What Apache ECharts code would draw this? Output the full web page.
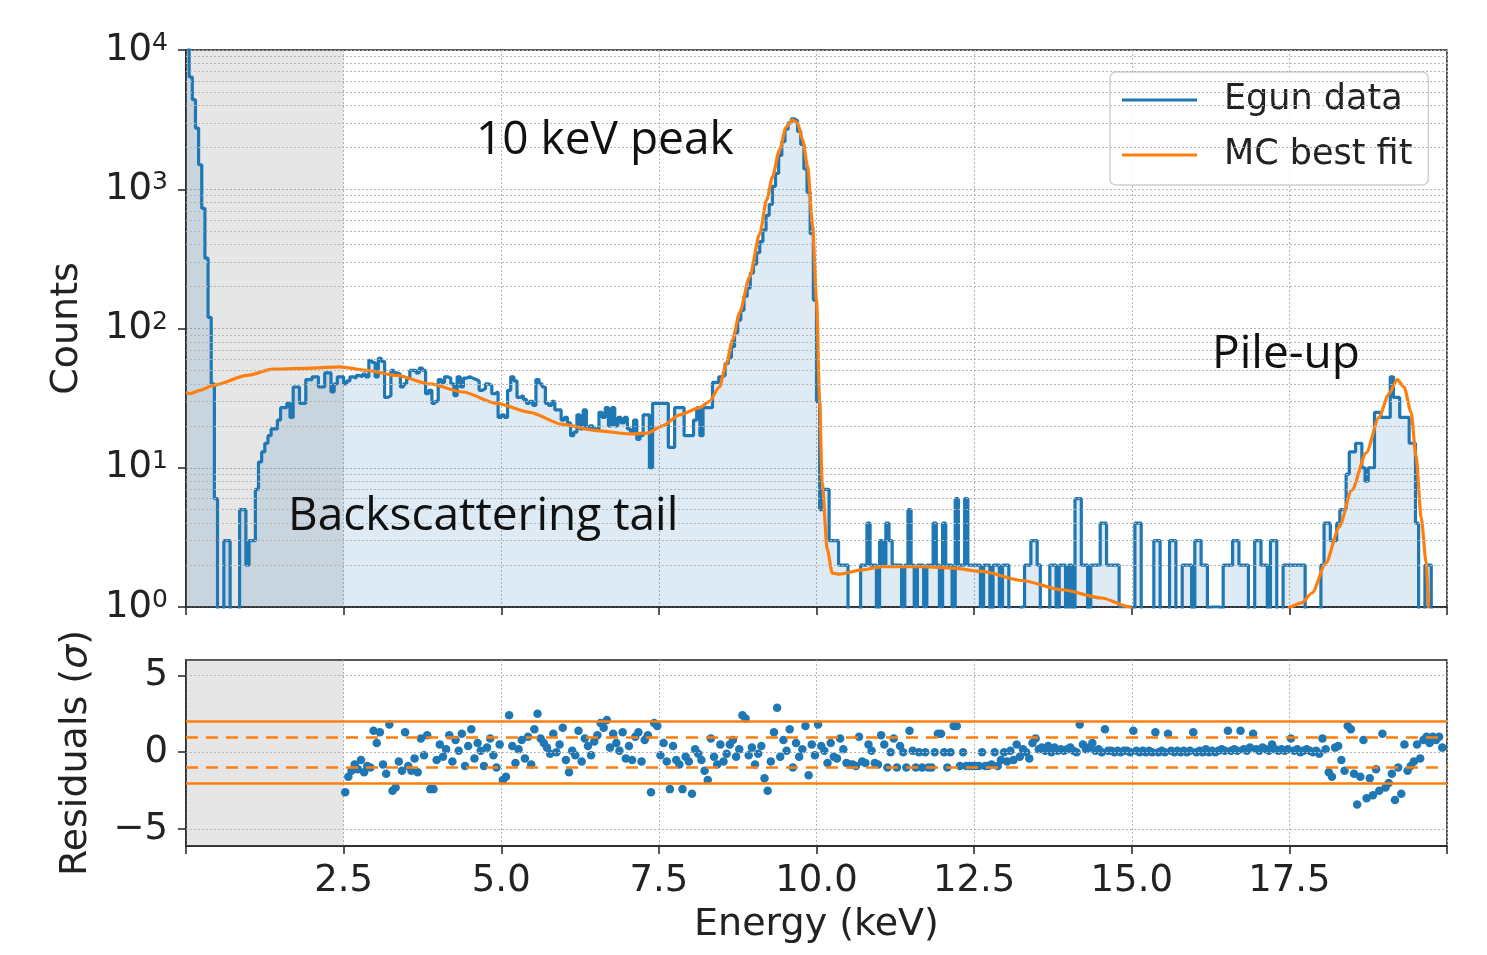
<!DOCTYPE html>
<html>
<head>
<meta charset="utf-8">
<script src="https://cdn.jsdelivr.net/npm/echarts@6/dist/echarts.min.js"></script>
<style>
  html, body { margin: 0; padding: 0; background: #fff; }
  #chart { width: 1487px; height: 955px; }
</style>
</head>
<body>
<div id="chart"></div>
<script>
// histogram bins, 0.05 keV wide, starting at 0 keV
const binWidth = 0.05;
const counts = [
  15000, 6400, 4400, 2750, 1500, 730, 320, 120, 40, 6,
  0, 0, 3, 3, 0, 0, 0, 5, 5, 2,
  3, 3, 7, 11, 13, 15, 17, 19, 19, 22,
  27, 27, 29, 23, 38, 38, 29, 29, 43, 43,
  45, 45, 38, 38, 48, 48, 35, 40, 45, 45,
  40, 42, 45, 44, 46, 45, 47, 45, 59, 57,
  45, 61, 58, 32, 33, 50, 48, 47, 38, 40,
  44, 50, 50, 48, 52, 50, 34, 36, 29, 30,
  43, 41, 45, 44, 40, 33, 45, 38, 44, 45,
  44, 43, 42, 36, 37, 40, 39, 34, 35, 23,
  24, 23, 36, 45, 42, 32, 33, 31, 29, 30,
  28, 43, 40, 38, 29, 28, 30, 26, 26, 22,
  23, 21, 17, 18, 24, 19, 26, 19, 20, 19,
  19, 25, 23, 27, 20, 27, 20, 23, 21, 23,
  19, 18, 22, 16, 17, 24, 24, 10, 29, 29,
  29, 29, 29, 14, 14, 27, 27, 27, 17, 17,
  17, 22, 27, 17, 27, 27, 27, 41, 41, 45,
  46, 56, 62, 74, 93, 115, 135, 170, 195, 250,
  290, 350, 420, 510, 650, 780, 1050, 1300, 1750, 2200,
  2700, 3000, 3200, 3100, 2600, 2100, 1400, 950, 480, 160,
  30, 5, 7, 7, 3, 3, 3, 2, 2, 2,
  0, 0, 0, 0, 2, 2, 4, 2, 2, 0,
  3, 2, 4, 3, 2, 2, 2, 1, 2, 5,
  2, 1, 2, 2, 1, 2, 2, 4, 2, 1,
  4, 2, 2, 1, 6, 2, 2, 6, 2, 2,
  2, 2, 1, 2, 2, 0, 2, 2, 1, 2,
  2, 0, 0, 0, 0, 1, 2, 2, 3, 3,
  2, 0, 0, 0, 2, 2, 0, 2, 2, 0,
  2, 0, 6, 6, 2, 2, 0, 2, 2, 2,
  4, 4, 2, 2, 2, 2, 1, 1, 1, 1,
  0, 4, 4, 0, 0, 0, 0, 3, 3, 0,
  0, 0, 3, 3, 0, 0, 2, 2, 2, 0,
  3, 3, 2, 2, 0, 1, 1, 1, 0, 2,
  2, 2, 3, 3, 2, 2, 2, 0, 0, 3,
  3, 2, 2, 0, 3, 3, 0, 0, 2, 2,
  2, 2, 2, 2, 2, 0, 0, 0, 0, 0,
  2, 4, 4, 3, 3, 4, 5, 5, 9, 13,
  13, 15, 15, 10, 8, 10, 10, 25, 25, 23,
  23, 23, 45, 32, 32, 23, 23, 23, 15, 15,
  4, 0, 0, 2, 2, 0, 0, 0, 0, 0
];

// MC best fit curve (keV, counts); values below 1 fall under the axis
const fitEnergy = [
  0.0, 0.06, 0.22, 0.43, 0.97, 1.38, 2.01, 2.44, 2.87, 3.34,
  3.87, 4.39, 4.93, 5.45, 5.97, 6.51, 7.04, 7.31, 7.56, 7.83,
  8.15, 8.30, 8.46, 8.57, 8.67, 8.78, 8.94, 9.10, 9.21, 9.30,
  9.41, 9.52, 9.62, 9.70, 9.78, 9.86, 9.94, 10.00, 10.05, 10.09,
  10.17, 10.25, 10.36, 10.72, 11.04, 11.67, 12.18, 12.62, 13.26, 13.89,
  14.52, 14.97, 15.3, 16.5, 17.3, 17.50, 17.69, 17.86, 18.08, 18.29,
  18.49, 18.72, 18.92, 19.08, 19.21, 19.32, 19.43, 19.51, 19.59, 19.67,
  19.71, 19.8
];
const fitCounts = [
  35, 34, 36, 39, 46, 51, 52, 53, 50, 46,
  40, 35, 29, 25, 20.5, 18.5, 17.5, 17.7, 20, 24,
  27, 30, 38, 56, 83, 130, 235, 480, 840, 1220,
  1900, 2800, 3150, 3000, 2250, 1450, 540, 160, 30, 7.8,
  2.6, 1.75, 1.72, 1.85, 1.95, 1.95, 1.9, 1.8, 1.55, 1.33,
  1.16, 1.0, 0.3, 0.3, 0.3, 1.0, 1.07, 1.26, 2.07, 3.75,
  6.9, 12.8, 23, 34, 43, 38, 25, 12, 4.4, 2.07,
  1.0, 0.3
];

// residuals per bin, starting with the bin at 2.5 keV
const residualStartBin = 50;
const residuals = [
  -2.6, -1.6, -1.2, -0.8, -1.1, -0.5, -1.3, -0.9, -1.0, 1.4,
  0.6, 1.3, -0.8, -1.4, 1.8, -2.5, -2.3, -0.6, -1.2, 1.3,
  -0.9, -1.2, -0.4, -1.3, 0.9, -0.2, 1.1, -2.4, -2.4, -0.5,
  0.5, -0.3, 0.2, 1.1, -0.6, 0.8, 0.1, 1.2, -0.9, 0.4,
  1.5, -0.4, 0.6, 0.1, -0.9, 0.3, 0.9, -0.2, -1.0, 0.5,
  -1.8, -1.6, 2.4, 0.4, -0.7, 0.2, 0.8, -0.4, 1.0, -0.8,
  1.5, 2.5, 0.9, 0.6, 0.3, -0.1, 1.2, 0.0, 0.5, 1.6,
  -0.5, -1.3, 0.1, -0.2, 1.4, -0.6, 0.9, 0.4, -0.2, 0.7,
  1.1, 1.9, 1.6, 2.1, 0.3, 1.2, 0.6, 0.1, 1.3, -0.4,
  0.4, -0.5, 1.0, 1.3, -0.6, 0.8, 1.1, -2.6, 1.9, 1.7,
  -0.2, 0.6, -0.6, -2.4, 0.4, -0.5, -0.8, -2.4, -0.3, -0.6,
  -2.7, 0.2, -0.1, -0.5, -1.2, -1.8, 0.9, -0.3, -0.8, 0.5,
  -0.6, -0.1, 0.5, 0.8, -0.3, 0.2, 2.4, 2.2, -0.2, 0.3,
  -0.8, -0.1, 0.4, -1.7, -2.5, -0.6, 1.3, 2.9, -0.3, 0.8,
  0.1, 1.5, -1.0, 0.6, -0.3, 0.2, 1.7, -1.5, 0.5, -0.2,
  1.8, 0.4, 0.1, -0.7, 0.6, -0.3, -0.4, 0.9, 0.2, -0.7,
  -0.8, -0.8, -0.9, 1.0, -0.6, -0.7, 0.5, 0.1, -0.7, -0.8,
  1.1, 0.5, -1.0, 0.0, 0.9, -1.0, 0.4, 0.0, -1.0, 1.4,
  0.1, -1.0, 0.0, -1.0, 0.0, -1.0, -1.0, 0.0, 1.2, 1.2,
  0.0, -1.0, 0.0, 1.7, 1.7, -0.9, 0.0, -0.9, -0.9, -0.9,
  -0.9, -0.9, 0.0, -0.9, -0.9, -0.8, 0.0, -0.9, -0.5, 0.0,
  -0.6, 0.1, -0.5, 0.5, -0.3, 0.2, 0.0, -0.4, 0.6, 0.9,
  0.2, 0.3, 0.1, 0.4, 0.0, 0.3, 0.1, 0.2, 0.1, 0.2,
  0.3, 0.1, 0.0, 1.8, 0.5, 0.2, 0.3, 0.6, 0.1, 0.2,
  0.0, 1.5, 0.1, 0.1, 0.0, 0.1, 0.0, 0.1, 0.1, 0.0,
  1.4, 0.1, 0.0, 0.1, 0.0, 0.1, 0.0, 1.3, 0.0, 0.1,
  0.0, 1.2, 0.1, 0.0, 0.1, 0.0, 0.1, 0.0, 0.1, 1.3,
  0.0, 0.1, 0.0, 0.2, 0.0, 0.1, 0.0, 0.1, 0.2, 0.1,
  1.4, 0.1, 0.2, 0.1, 1.4, 0.2, 0.1, 0.3, 1.2, 0.2,
  0.1, 0.3, 0.2, 0.1, 0.5, 0.2, 0.1, 0.2, 0.1, 0.2,
  0.9, 0.1, 0.2, 0.0, 0.1, 0.2, 0.1, 0.0, 0.1, -0.1,
  0.9, 0.2, -1.3, -1.6, 0.3, 0.4, -0.5, -1.2, 1.7, 1.5,
  -1.4, -3.4, -1.6, 0.8, -3.0, -1.7, -2.8, -1.1, -2.5, 1.2,
  -2.3, -2.0, -1.4, -3.1, -1.0, -2.7, 0.5, -1.2, -0.9, -0.6,
  0.5, -0.4, 0.8, 1.0, 0.6, 1.0, 0.8, 1.0, 0.3
];

const excludedRange = [0, 2.5];
const sigmaSolid = [2, -2];
const sigmaDashed = [1, -1];
const residualTicks = [-5, 0, 5];
const logMinorLines = [2, 3, 4, 5, 6, 7, 8, 9, 20, 30, 40, 50, 60, 70, 80, 90,
  200, 300, 400, 500, 600, 700, 800, 900, 2000, 3000, 4000, 5000, 6000, 7000, 8000, 9000];

const BLUE = '#1f77b4';
const ORANGE = '#ff7f0e';
const GRIDC = '#b5b5b5';
const FONT = '"DejaVu Sans", sans-serif';

// step histogram points: left edges + closing edge, zero counts pushed below the axis
const histPoints = counts.map((c, i) => [i * binWidth, c > 0 ? c : 0.1]);
histPoints.push([counts.length * binWidth, counts[counts.length - 1] > 0 ? counts[counts.length - 1] : 0.1]);

const fitPoints = fitEnergy.map((e, i) => [e, fitCounts[i]]);
const residualPoints = residuals.map((r, i) => [(residualStartBin + i + 0.5) * binWidth, r]);

const chart = echarts.init(document.getElementById('chart'), null, { renderer: 'canvas' });

const gridLine = { show: true, lineStyle: { color: GRIDC, type: [2, 2], width: 1 } };

const option = {
  animation: false,
  backgroundColor: '#fff',
  grid: [
    { left: 186, top: 50, width: 1261, height: 557, show: true, borderColor: '#222', borderWidth: 1.5, outerBoundsMode: 'none', containLabel: false },
    { left: 186, top: 660, width: 1261, height: 186, show: true, borderColor: '#222', borderWidth: 1.5, outerBoundsMode: 'none', containLabel: false }
  ],
  legend: {
    data: ['Egun data', 'MC best fit'],
    orient: 'vertical',
    left: 1110,
    top: 72,
    icon: 'rect',
    itemWidth: 75,
    itemHeight: 3,
    itemGap: 15,
    padding: [8, 16, 10, 12],
    backgroundColor: 'rgba(255,255,255,0.85)',
    borderColor: '#d0d0d0',
    borderWidth: 1.5,
    borderRadius: 6,
    textStyle: { fontSize: 35, fontFamily: FONT, color: '#222', lineHeight: 40, padding: [0, 0, 0, 22] }
  },
  xAxis: [
    {
      gridIndex: 0, type: 'value', min: 0, max: 20, interval: 2.5,
      axisLine: { show: true, onZero: false, lineStyle: { color: '#222', width: 1.5 } },
      axisTick: { show: true, length: 8, lineStyle: { color: '#222', width: 1.5 } },
      axisLabel: { show: false },
      splitLine: gridLine
    },
    {
      gridIndex: 1, type: 'value', min: 0, max: 20, interval: 2.5,
      axisLine: { show: true, onZero: false, lineStyle: { color: '#222', width: 1.5 } },
      axisTick: { show: true, length: 8, lineStyle: { color: '#222', width: 1.5 } },
      axisLabel: {
        fontSize: 37, fontFamily: FONT, color: '#222', margin: 17,
        formatter: v => (v <= 0 || v >= 20) ? '' : v.toFixed(1)
      },
      splitLine: gridLine,
      name: 'Energy (keV)', nameLocation: 'middle', nameGap: 60,
      nameTextStyle: { fontSize: 38, fontFamily: FONT, color: '#222' }
    }
  ],
  yAxis: [
    {
      gridIndex: 0, type: 'log', logBase: 10, min: 1, max: 10000, splitNumber: 4,
      axisLine: { show: true, lineStyle: { color: '#222', width: 1.5 } },
      axisTick: { show: true, length: 8, lineStyle: { color: '#222', width: 1.5 } },
      axisLabel: {
        margin: 18,
        formatter: v => '{b|10}{s|' + Math.round(Math.log10(v)) + '}',
        rich: {
          b: { fontSize: 37, fontFamily: FONT, color: '#222', lineHeight: 38 },
          s: { fontSize: 25, fontFamily: FONT, color: '#222', lineHeight: 25, verticalAlign: 'top' }
        }
      },
      splitLine: gridLine,
      name: 'Counts', nameLocation: 'middle', nameGap: 100,
      nameTextStyle: { fontSize: 38, fontFamily: FONT, color: '#222' }
    },
    {
      gridIndex: 1, type: 'value', min: -6.1, max: 6.0,
      axisLine: { show: true, onZero: false, lineStyle: { color: '#222', width: 1.5 } },
      axisTick: { show: true, length: 8, customValues: residualTicks, lineStyle: { color: '#222', width: 1.5 } },
      axisLabel: {
        fontSize: 37, fontFamily: FONT, color: '#222', margin: 18,
        customValues: residualTicks,
        formatter: v => v < 0 ? '\u2212' + Math.abs(v) : String(v)
      },
      splitLine: { show: false },
      name: 'Residuals ({i|σ})', nameLocation: 'middle', nameGap: 91,
      nameTextStyle: {
        fontSize: 38, fontFamily: FONT, color: '#222',
        rich: { i: { fontSize: 38, fontFamily: FONT, fontStyle: 'italic', color: '#222' } }
      }
    }
  ],
  series: [
    {
      name: 'Egun data',
      type: 'line',
      xAxisIndex: 0, yAxisIndex: 0,
      data: histPoints,
      step: 'end',
      showSymbol: false,
      symbol: 'none',
      clip: true,
      z: 3,
      color: BLUE,
      lineStyle: { color: BLUE, width: 3.2 },
      areaStyle: { color: 'rgba(31,119,180,0.21)', origin: 1 },
      markArea: {
        silent: true,
        itemStyle: { color: 'rgba(128,128,128,0.2)' },
        data: [[{ xAxis: excludedRange[0] }, { xAxis: excludedRange[1] }]]
      },
      markLine: {
        silent: true,
        symbol: 'none',
        label: { show: false },
        lineStyle: { color: GRIDC, type: [2, 2], width: 1 },
        data: logMinorLines.map(v => ({ yAxis: v }))
      }
    },
    {
      name: 'MC best fit',
      type: 'line',
      xAxisIndex: 0, yAxisIndex: 0,
      data: fitPoints,
      smooth: 0.25,
      smoothMonotone: 'x',
      showSymbol: false,
      symbol: 'none',
      clip: true,
      z: 4,
      color: ORANGE,
      lineStyle: { color: ORANGE, width: 3.2 }
    },
    {
      name: 'Residuals',
      type: 'scatter',
      xAxisIndex: 1, yAxisIndex: 1,
      data: residualPoints,
      symbolSize: 8.5,
      z: 4,
      itemStyle: { color: BLUE, opacity: 1 },
      markArea: {
        silent: true,
        itemStyle: { color: 'rgba(128,128,128,0.2)' },
        data: [[{ xAxis: excludedRange[0] }, { xAxis: excludedRange[1] }]]
      },
      markLine: {
        silent: true,
        symbol: 'none',
        label: { show: false },
        data: [
          ...residualTicks.map(v => ({ yAxis: v, lineStyle: { color: GRIDC, type: [2, 2], width: 1 } })),
          ...sigmaSolid.map(v => ({ yAxis: v, lineStyle: { color: ORANGE, type: 'solid', width: 2.5 } })),
          ...sigmaDashed.map(v => ({ yAxis: v, lineStyle: { color: ORANGE, type: [12, 8], width: 2.5 } }))
        ]
      }
    }
  ],
  graphic: [
    { type: 'text', z: 100, left: 476, top: 118, style: { text: '10 keV peak', font: '46px "Open Sans", sans-serif', fill: '#111' } },
    { type: 'text', z: 100, left: 288, top: 494, style: { text: 'Backscattering tail', font: '46px "Open Sans", sans-serif', fill: '#111' } },
    { type: 'text', z: 100, left: 1212, top: 332, style: { text: 'Pile-up', font: '46px "Open Sans", sans-serif', fill: '#111' } }
  ]
};

chart.setOption(option);
</script>
</body>
</html>
